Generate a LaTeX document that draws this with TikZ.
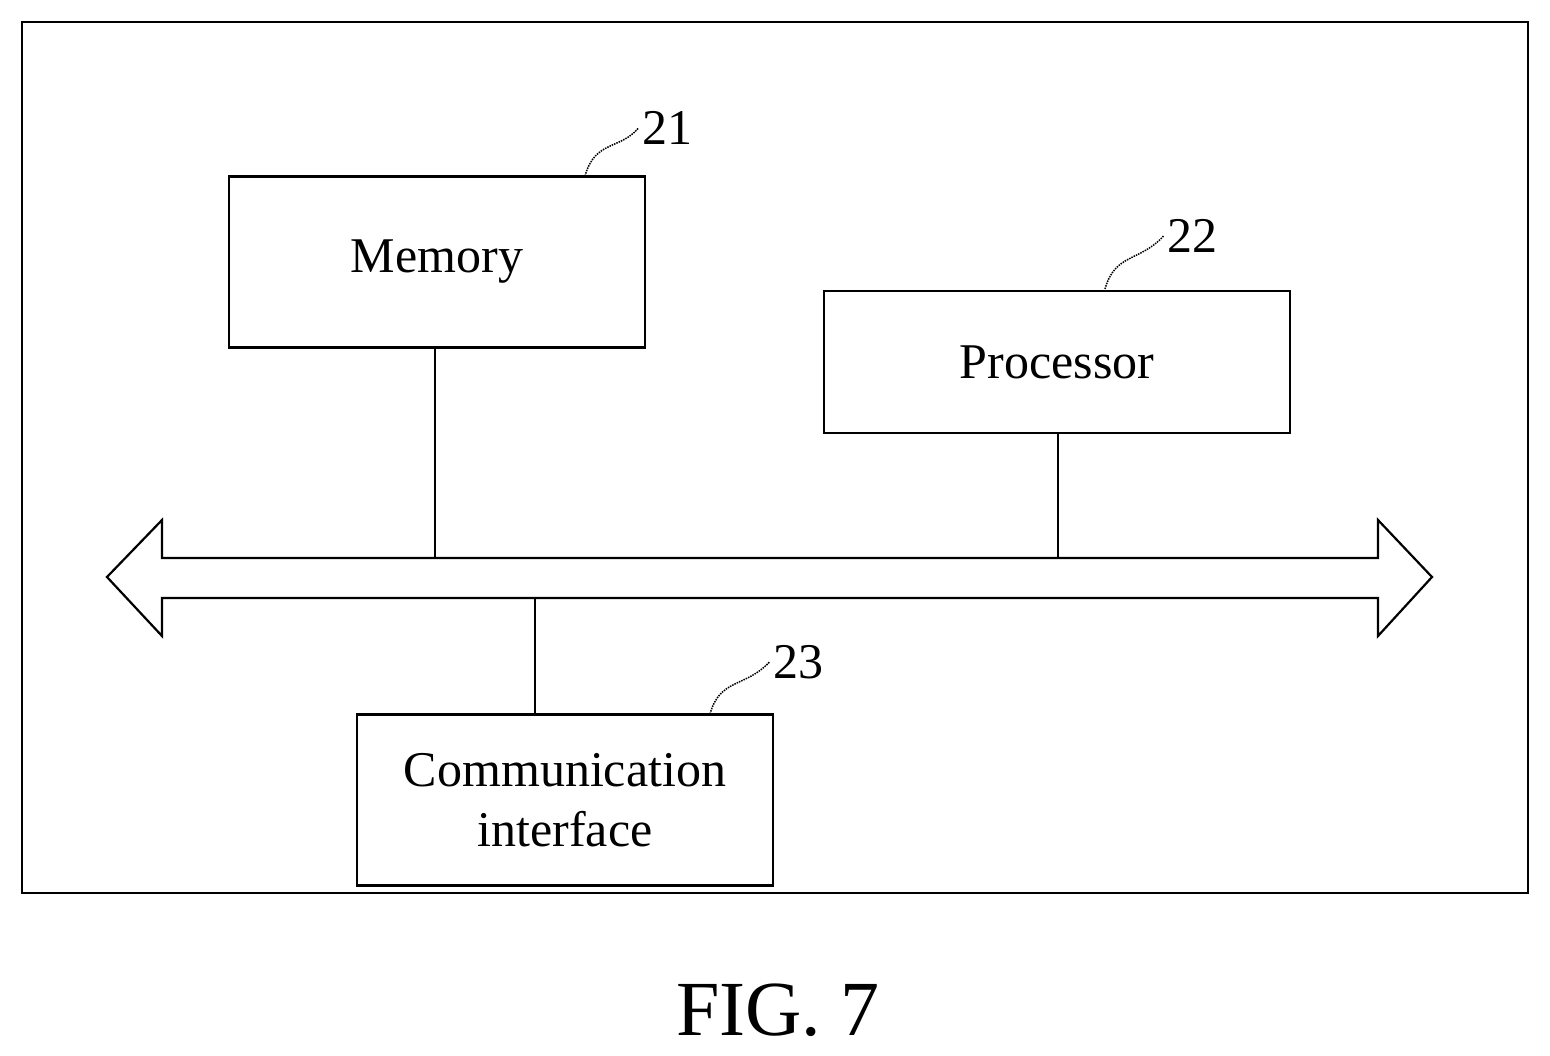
\documentclass[tikz,border=0pt]{standalone}
\usepackage{fontspec}
\setmainfont{Liberation Serif}
\begin{document}
\begin{tikzpicture}[x=1pt,y=-1pt,
  box/.style={draw,line width=2.2pt,inner sep=0pt,font=\fontsize{50}{60}\selectfont,align=center},
  lbl/.style={font=\fontsize{50}{60}\selectfont},
  lead/.style={line width=1.5pt,densely dotted},
  ln/.style={line width=2.2pt}]
\useasboundingbox (0,0) rectangle (1550,1055);
\draw[line width=1.5pt] (22,22) rectangle (1528,893);
\node[box,minimum width=416pt,minimum height=171pt] (mem) at (437,262) {Memory};
\node[box,minimum width=466pt,minimum height=142pt] (proc) at (1057,362) {Processor};
\node[box,minimum width=416pt,minimum height=171pt] (comm) at (565,800) {Communication\\interface};
\draw[line width=2.2pt,line join=miter] (107,577) -- (162,520) -- (162,558) -- (1378,558) -- (1378,520) -- (1432,577) -- (1378,636) -- (1378,598) -- (162,598) -- (162,636) -- cycle;
\coordinate (b1) at (435,558);
\coordinate (b2) at (1058,558);
\coordinate (b3) at (535,598);
\draw[ln] (mem.south -| b1) -- (b1);
\draw[ln] (proc.south -| b2) -- (b2);
\draw[ln] (comm.north -| b3) -- (b3);
\node[lbl] (l21) at (667,128) {21};
\node[lbl] (l22) at (1192,236) {22};
\node[lbl] (l23) at (798,662) {23};
\draw[lead] (585,176) .. controls (595,140) and (620,150) .. (l21.west);
\draw[lead] (1105,289) .. controls (1115,253) and (1140,262) .. (l22.west);
\draw[lead] (710,714) .. controls (720,678) and (745,688) .. (l23.west);
\node[font=\fontsize{78}{86}\selectfont] (fig) at (778,1010) {FIG. 7};
\end{tikzpicture}
\end{document}
